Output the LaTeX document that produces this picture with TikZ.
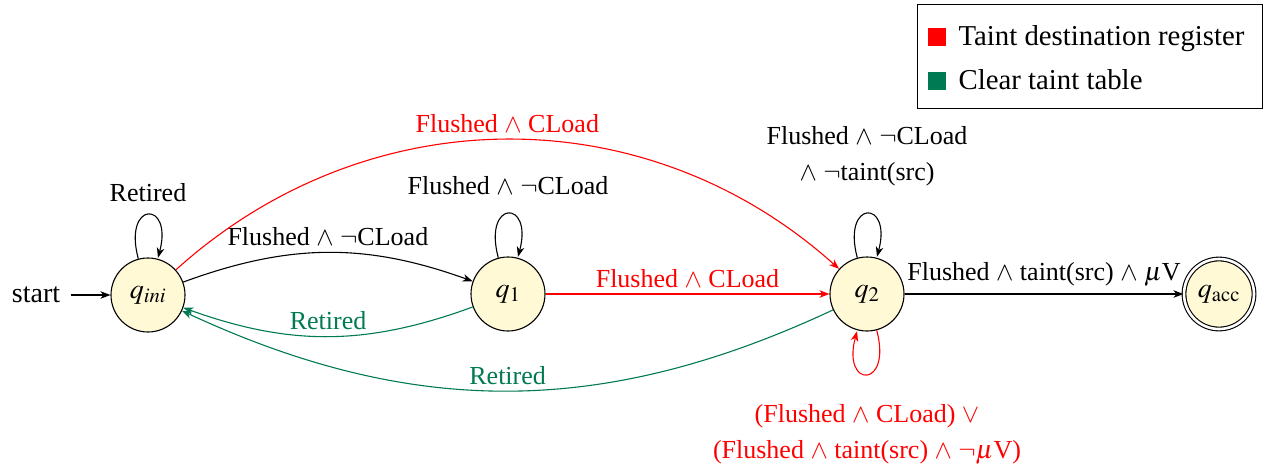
\documentclass[tikz,border=0pt]{standalone}
\usepackage{mathptmx}
\usepackage{fontspec}
\setmainfont{Liberation Serif}
\usetikzlibrary{automata,arrows.meta}
\definecolor{tred}{RGB}{255,0,0}
\definecolor{tgreen}{RGB}{0,122,82}
\definecolor{nodefill}{RGB}{255,249,214}
\begin{document}
\begin{tikzpicture}[x=1pt,y=1pt,
  >={Stealth[length=10pt,width=7.5pt,inset=3pt]},
  line width=1.1pt,
  every state/.style={draw, fill=nodefill, line width=1.1pt, minimum size=74pt, inner sep=0pt,
    font=\fontsize{28}{32}\selectfont},
  accepting/.style={double, double distance=2.6pt, minimum size=70pt},
  lbl/.style={font=\fontsize{26}{36}\selectfont, inner sep=6pt, align=center},
  looplbl/.style={font=\fontsize{26}{36}\selectfont, inner sep=9pt, align=center},
  legtext/.style={font=\fontsize{28.8}{34}\selectfont, inner sep=0pt, anchor=base west},
  legsq/.style={minimum size=18pt, inner sep=0pt}]
\useasboundingbox (0,0) rectangle (1268,-466);

\node[state] (qi) at (148,-295) {$q_{ini}$};
\node[state] (q1) at (508,-294) {$q_1$};
\node[state] (q2) at (867,-294) {$q_2$};
\node[state,accepting] (qa) at (1219,-294) {$q_{\mathrm{acc}}$};
\node[font=\fontsize{28}{32}\selectfont, inner sep=10pt] (st) at (36,-295) {start};

\draw[->] (st) -- (qi);
\draw[->] (qi) edge[loop above] node[above,looplbl,yshift=4pt]{Retired} ();
\draw[->] (q1) edge[loop above] node[above,looplbl,yshift=10pt]{Flushed $\wedge$ $\neg$CLoad} ();
\draw[->] (q2) edge[loop above] node[above,looplbl,yshift=18pt]{Flushed $\wedge$ $\neg$CLoad\\$\wedge$ $\neg$taint(src)} ();
\draw[->,tred] (q2) edge[loop below] node[below,looplbl,yshift=-21pt]{(Flushed $\wedge$ CLoad) $\vee$\\(Flushed $\wedge$ taint(src) $\wedge$ $\neg\mu$V)} ();

\draw[->] (qi) to[bend left=20] node[above,lbl]{Flushed $\wedge$ $\neg$CLoad} (q1);
\draw[->,tred] (qi) to[bend left=42] node[above,lbl]{Flushed $\wedge$ CLoad} (q2);
\draw[->,tred] (q1) -- node[above,lbl]{Flushed $\wedge$ CLoad} (q2);
\draw[->] (q2) -- node[above,lbl,yshift=1pt]{Flushed $\wedge$ taint(src) $\wedge$ $\mu$V} (qa);
\draw[->,tgreen] (q1) to[bend left=20] node[above,lbl]{Retired} (qi);
\draw[->,tgreen] (q2) to[bend left=25] node[above,lbl]{Retired} (qi);

\node[draw, line width=1.2pt, minimum width=345pt, minimum height=104pt, anchor=north west, inner sep=0pt] (legend) at (917,-4) {};
\node[legsq, fill=tred] (lr) at (937,-37) {};
\node[legtext] (lrt) at (958,-45) {Taint destination register};
\node[legsq, fill=tgreen] (lg) at (937,-81) {};
\node[legtext] (lgt) at (958,-89) {Clear taint table};
\end{tikzpicture}
\end{document}
